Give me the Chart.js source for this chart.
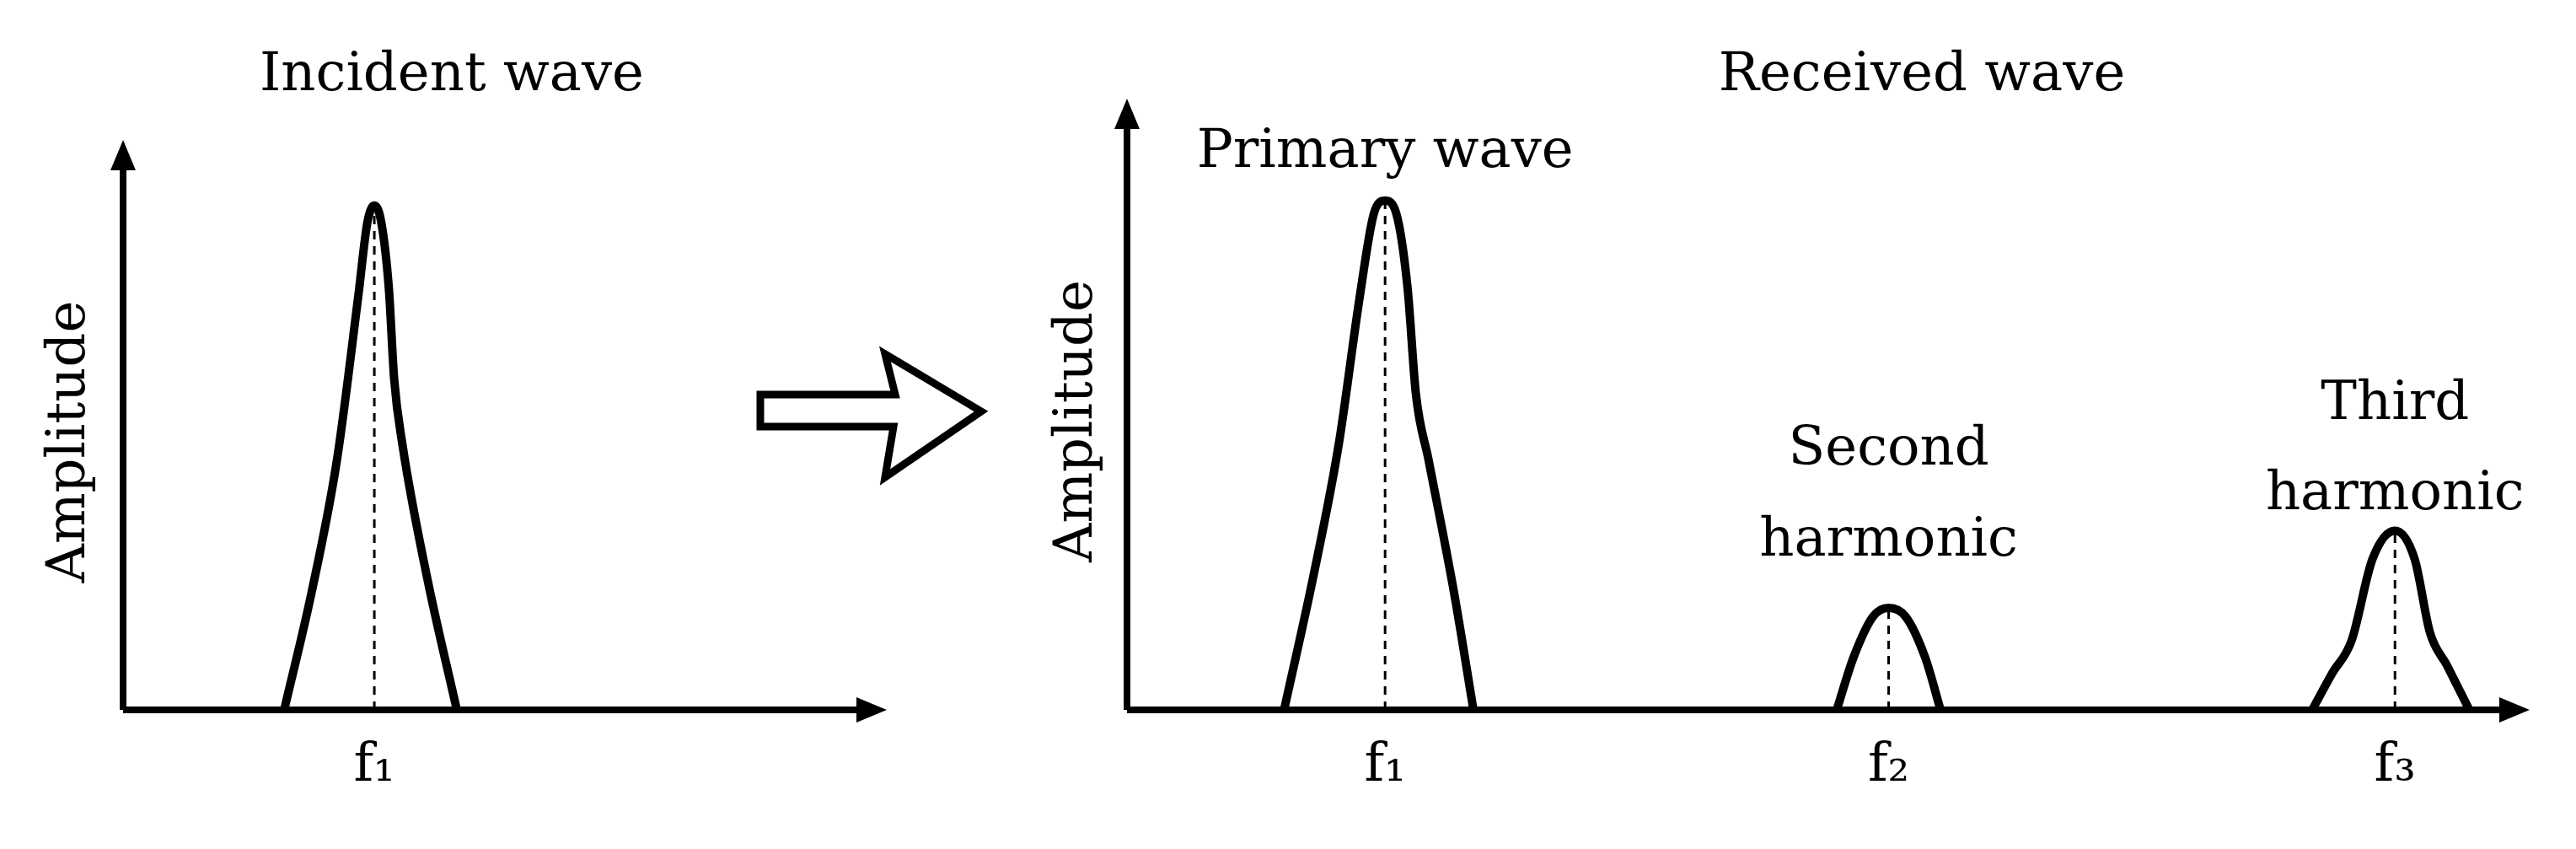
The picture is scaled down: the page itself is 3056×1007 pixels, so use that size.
<!DOCTYPE html>
<html>
<head>
<meta charset="utf-8">
<script src="https://cdn.jsdelivr.net/npm/chart.js@4"></script>
<style>
  body { margin: 0; background: #fff; width: 3056px; height: 1007px; overflow: hidden; position: relative; }
  .box { position: absolute; top: 0; height: 1007px; }
  #arrow { position: absolute; left: 0; top: 0; }
</style>
</head>
<body>
<div class="box" style="left:0;width:1200px"><canvas id="incident"></canvas></div>
<div class="box" style="left:1200px;width:1856px"><canvas id="received"></canvas></div>
<svg id="arrow" width="3056" height="1007">
  <polygon points="902,468 1062,468 1050,420 1164,488 1050,566 1060,506 902,506"
    fill="#fff" stroke="#000" stroke-width="9" stroke-linejoin="miter"/>
</svg>
<script>
// x and y on a 0..100 axis range
const incidentPeak = [[21.1,0],[24.7,20.7],[28,43.8],[30.8,72.6],[32,85.6],[32.9,88.5],[33.8,85.6],[34.8,74],[35.5,58],[36.6,46.4],[39.8,23.3],[43.7,0]];
const primaryPeak = [[11.2,0],[13.3,22],[15.1,43.5],[16.6,67.7],[17.6,81.2],[18.4,83.3],[19.2,81.2],[20,69.1],[20.6,51.6],[21.5,40.9],[23.3,19.4],[24.7,0]];
const secondPeak = [[50.6,0],[51.8,8.6],[53.2,15.3],[54.3,16.7],[55.5,15.3],[56.9,8.6],[58,0]];
const thirdPeak = [[84.5,0],[85.9,5.9],[87.3,11.3],[88.8,24.7],[90.4,29.3],[91.8,24.7],[92.9,12.6],[94.1,7.3],[95.7,0]];
const incidentTicks = [32.9];
const receivedTicks = [18.4, 54.3, 90.4];
const tickLabels = ["f\u2081", "f\u2082", "f\u2083"];

const FONT = '"DejaVu Serif", "Liberation Serif", serif';

function peakSet(pts) {
  return {
    data: pts.map(p => ({ x: p[0], y: p[1] })),
    borderColor: "#000", borderWidth: 10, pointRadius: 0,
    cubicInterpolationMode: "monotone", fill: false
  };
}
function dashSet(pts) {
  const top = pts.reduce((a, b) => (b[1] > a[1] ? b : a));
  return {
    data: [{ x: top[0], y: 0 }, { x: top[0], y: top[1] }],
    borderColor: "#000", borderWidth: 3, borderDash: [10, 8], pointRadius: 0
  };
}

function axesPlugin(cfg) {
  return {
    id: "axes",
    afterDraw(chart) {
      const ctx = chart.ctx, a = chart.chartArea;
      const xs = chart.scales.x, ys = chart.scales.y;
      const x0 = xs.getPixelForValue(0), y0 = ys.getPixelForValue(0);
      ctx.save();
      ctx.strokeStyle = "#000"; ctx.fillStyle = "#000"; ctx.lineWidth = 8;
      ctx.beginPath();
      ctx.moveTo(x0, y0); ctx.lineTo(a.right - 30, y0);
      ctx.moveTo(x0, y0); ctx.lineTo(x0, a.top + 30);
      ctx.stroke();
      ctx.beginPath();
      ctx.moveTo(a.right, y0); ctx.lineTo(a.right - 36, y0 - 15); ctx.lineTo(a.right - 36, y0 + 15); ctx.closePath();
      ctx.moveTo(x0, a.top); ctx.lineTo(x0 - 15, a.top + 36); ctx.lineTo(x0 + 15, a.top + 36); ctx.closePath();
      ctx.fill();

      ctx.textAlign = "center"; ctx.textBaseline = "alphabetic";
      ctx.font = "64px " + FONT;
      ctx.fillText(cfg.title, cfg.titleX, 107);
      cfg.ticks.forEach((t, i) => ctx.fillText(tickLabels[i], xs.getPixelForValue(t), 926));
      cfg.notes.forEach(n => ctx.fillText(n[2], xs.getPixelForValue(n[0]), n[1]));

      ctx.save();
      ctx.translate(cfg.ampX, (a.top + y0) / 2 + 20);
      ctx.rotate(-Math.PI / 2);
      ctx.fillText("Amplitude", 0, 0);
      ctx.restore();
      ctx.restore();
    }
  };
}

function makeChart(id, peaks, pad, cfg) {
  const sets = [];
  peaks.forEach(p => { sets.push(peakSet(p)); sets.push(dashSet(p)); });
  return new Chart(document.getElementById(id), {
    type: "line",
    data: { datasets: sets },
    options: {
      responsive: true, maintainAspectRatio: false, animation: false,
      layout: { padding: pad },
      plugins: { legend: { display: false }, tooltip: { enabled: false } },
      scales: {
        x: { type: "linear", min: 0, max: 100, display: false },
        y: { min: 0, max: 100, display: false }
      }
    },
    plugins: [axesPlugin(cfg)]
  });
}

makeChart("incident", [incidentPeak], { left: 146, right: 148, top: 166, bottom: 165 }, {
  title: "Incident wave", titleX: 536, ticks: incidentTicks, notes: [], ampX: 100
});
makeChart("received", [primaryPeak, secondPeak, thirdPeak], { left: 137, right: 55, top: 117, bottom: 165 }, {
  title: "Received wave", titleX: 1080, ticks: receivedTicks, ampX: 95,
  notes: [[18.4, 198, "Primary wave"], [54.3, 551, "Second"], [54.3, 659, "harmonic"],
          [90.4, 497, "Third"], [90.4, 604, "harmonic"]]
});
</script>
</body>
</html>
